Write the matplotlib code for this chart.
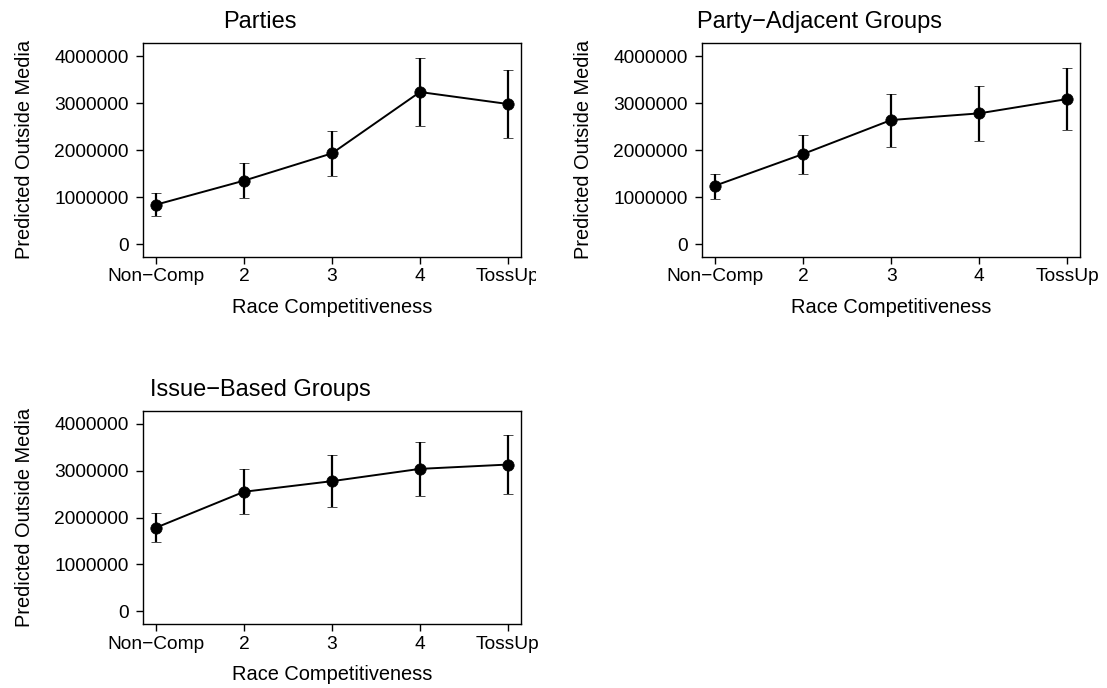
import matplotlib
matplotlib.use('Agg')
import matplotlib.pyplot as plt
from matplotlib.transforms import Bbox, TransformedBbox

plt.rcParams['font.family'] = ['Liberation Sans', 'DejaVu Sans']

categories = ['Non\u2212Comp', '2', '3', '4', 'TossUp']

parties_est = [837000, 1348000, 1929000, 3234000, 2979000]
parties_lo = [603000, 986000, 1440000, 2518000, 2248000]
parties_hi = [1078000, 1716000, 2411000, 3950000, 3709000]

adjacent_est = [1241000, 1915000, 2638000, 2780000, 3085000]
adjacent_lo = [965000, 1496000, 2071000, 2199000, 2433000]
adjacent_hi = [1482000, 2326000, 3199000, 3362000, 3738000]

issue_est = [1784000, 2549000, 2775000, 3037000, 3129000]
issue_lo = [1473000, 2067000, 2223000, 2457000, 2499000]
issue_hi = [2103000, 3030000, 3342000, 3618000, 3766000]

W, H = 1107, 688
fig = plt.figure(figsize=(W / 100, H / 100), dpi=100)


def px_axes(left, right, top, bottom):
    return fig.add_axes([left / W, (H - bottom) / H, (right - left) / W, (bottom - top) / H])


def panel(ax, title, est, lo, hi):
    x = list(range(1, len(categories) + 1))
    yerr = [[e - l for e, l in zip(est, lo)], [h - e for e, h in zip(est, hi)]]
    ax.errorbar(x, est, yerr=yerr, color='black', marker='o', markersize=8.2,
                markeredgewidth=0.5, linewidth=1.4, elinewidth=1.6,
                capsize=3.9, capthick=1.6)
    ax.set_xlim(0.855, 5.145)
    ax.set_ylim(-270000, 4277000)
    ax.set_xticks(x)
    ax.set_xticklabels(categories)
    ax.set_yticks([0, 1000000, 2000000, 3000000, 4000000])
    ax.set_yticklabels(['0', '1000000', '2000000', '3000000', '4000000'])
    ax.tick_params(direction='out', length=5.3, width=1, labelsize=13.8)
    ax.tick_params(axis='x', pad=3)
    ax.tick_params(axis='y', pad=5)
    for s in ax.spines.values():
        s.set_linewidth(1)
    ax.set_xlabel('Race Competitiveness', fontsize=14.4, labelpad=9)
    ax.set_ylabel('Predicted Outside Media', fontsize=14.4, labelpad=15)
    ax.set_title(title, fontsize=17, x=0.31, pad=10.6)


ax1 = px_axes(143.3, 520.7, 43, 256.7)
panel(ax1, 'Parties', parties_est, parties_lo, parties_hi)
ax2 = px_axes(702.3, 1080, 43, 256.7)
panel(ax2, 'Party\u2212Adjacent Groups', adjacent_est, adjacent_lo, adjacent_hi)
ax3 = px_axes(143.3, 520.7, 410.7, 624)
panel(ax3, 'Issue\u2212Based Groups', issue_est, issue_lo, issue_hi)

# the first panel's last tick label is cut off at its figure region edge
clip = TransformedBbox(Bbox([[0, 0], [536 / W, 1]]), fig.transFigure)
for lab in ax1.get_xticklabels():
    lab.set_clip_box(clip)
    lab.set_clip_on(True)

fig.savefig('out.png', dpi=100)
